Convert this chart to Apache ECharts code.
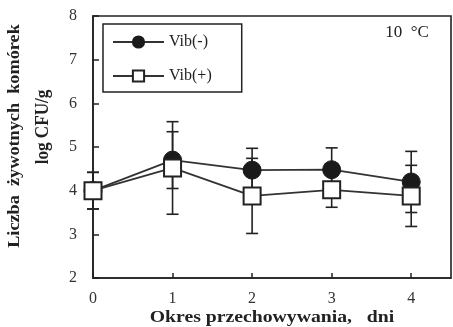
<!DOCTYPE html>
<html>
<head>
<meta charset="utf-8">
<script src="https://cdn.jsdelivr.net/npm/echarts@6/dist/echarts.min.js"></script>
<style>
  html, body { margin: 0; padding: 0; background: #fff; }
  #chart { width: 453px; height: 327px; }
</style>
</head>
<body>
<div id="chart"></div>
<script>
// dane
const days = [0, 1, 2, 3, 4];
const vibMinus = [4.0, 4.7, 4.47, 4.48, 4.2];
const vibMinusErr = [0.42, 0.65, 0.5, 0.5, 0.7];
const vibPlus = [4.0, 4.52, 3.88, 4.02, 3.88];
const vibPlusErr = [0.42, 1.06, 0.86, 0.4, 0.7];
const yTicks = [2, 3, 4, 5, 6, 7, 8];

const serif = '"Liberation Serif", "DejaVu Serif", serif';
const ink = '#222';

let myChart = echarts.init(document.getElementById('chart'));

// słupki błędów
function errBar(params, api) {
  const x = api.value(0), y = api.value(1), e = api.value(2);
  const top = api.coord([x, y + e]);
  const bot = api.coord([x, y - e]);
  const hw = 6;
  const st = { stroke: ink, lineWidth: 1.6 };
  return {
    type: 'group',
    children: [
      { type: 'line', shape: { x1: top[0], y1: top[1], x2: bot[0], y2: bot[1] }, style: st },
      { type: 'line', shape: { x1: top[0] - hw, y1: top[1], x2: top[0] + hw, y2: top[1] }, style: st },
      { type: 'line', shape: { x1: bot[0] - hw, y1: bot[1], x2: bot[0] + hw, y2: bot[1] }, style: st }
    ]
  };
}

myChart.setOption({
  animation: false,
  grid: {
    left: 93, right: 2, top: 16, bottom: 49,
    show: true,
    borderColor: ink,
    borderWidth: 1.6
  },
  legend: {
    orient: 'vertical',
    left: 103, top: 24,
    data: ['Vib(-)', 'Vib(+)'],
    itemWidth: 51,
    itemHeight: 14,
    itemGap: 18,
    padding: [10, 30, 8, 9],
    borderColor: ink,
    borderWidth: 1.5,
    textStyle: { fontFamily: serif, fontSize: 16, color: ink }
  },
  xAxis: {
    type: 'value',
    min: 0, max: 4.5, interval: 1,
    splitLine: { show: false },
    axisLine: { lineStyle: { color: ink, width: 1.6 } },
    axisTick: { inside: true, length: 5, lineStyle: { color: ink, width: 1.5 } },
    axisLabel: {
      margin: 13,
      fontFamily: serif, fontSize: 16, color: '#333',
      showMaxLabel: false,
      formatter: function (v) { return Number.isInteger(v) ? String(v) : ''; }
    }
  },
  yAxis: {
    type: 'value',
    min: yTicks[0], max: yTicks[yTicks.length - 1], interval: 1,
    splitLine: { show: false },
    axisLine: { lineStyle: { color: ink, width: 1.6 } },
    axisTick: { inside: true, length: 6, lineStyle: { color: ink, width: 1.5 } },
    axisLabel: { margin: 16, fontFamily: serif, fontSize: 16, color: '#333' }
  },
  graphic: [
    {
      type: 'text', x: 15, y: 136, rotation: Math.PI / 2, scaleX: 1.14,
      style: {
        text: 'Liczba  żywotnych  komórek',
        font: 'bold 16px ' + serif, fill: ink,
        textAlign: 'center', textVerticalAlign: 'middle'
      }
    },
    {
      type: 'text', x: 43, y: 127, rotation: Math.PI / 2, scaleX: 0.95,
      style: {
        text: 'log CFU/g',
        font: 'bold 18px ' + serif, fill: ink,
        textAlign: 'center', textVerticalAlign: 'middle'
      }
    },
    {
      type: 'text', x: 272, y: 318, scaleX: 1.16,
      style: {
        text: 'Okres przechowywania,   dni',
        font: 'bold 17px ' + serif, fill: ink,
        textAlign: 'center', textVerticalAlign: 'middle'
      }
    },
    {
      type: 'text', x: 407, y: 33,
      style: {
        text: '10  °C',
        font: '17px ' + serif, fill: ink,
        textAlign: 'center', textVerticalAlign: 'middle'
      }
    }
  ],
  series: [
    {
      type: 'custom', name: 'errMinus', z: 1,
      renderItem: errBar,
      data: days.map((d, i) => [d, vibMinus[i], vibMinusErr[i]])
    },
    {
      type: 'custom', name: 'errPlus', z: 1,
      renderItem: errBar,
      data: days.map((d, i) => [d, vibPlus[i], vibPlusErr[i]])
    },
    {
      name: 'Vib(-)', type: 'line', z: 3,
      data: days.map((d, i) => [d, vibMinus[i]]),
      symbol: 'circle', symbolSize: 18,
      lineStyle: { color: '#333', width: 1.8 },
      itemStyle: { color: '#1a1a1a', borderColor: '#1a1a1a', borderWidth: 1 }
    },
    {
      name: 'Vib(+)', type: 'line', z: 4,
      data: days.map((d, i) => [d, vibPlus[i]]),
      symbol: 'rect', symbolSize: 17,
      lineStyle: { color: '#333', width: 1.8 },
      itemStyle: { color: '#fff', borderColor: ink, borderWidth: 2 }
    }
  ]
});

window.addEventListener('resize', function () { myChart.resize() });
</script>
</body>
</html>
